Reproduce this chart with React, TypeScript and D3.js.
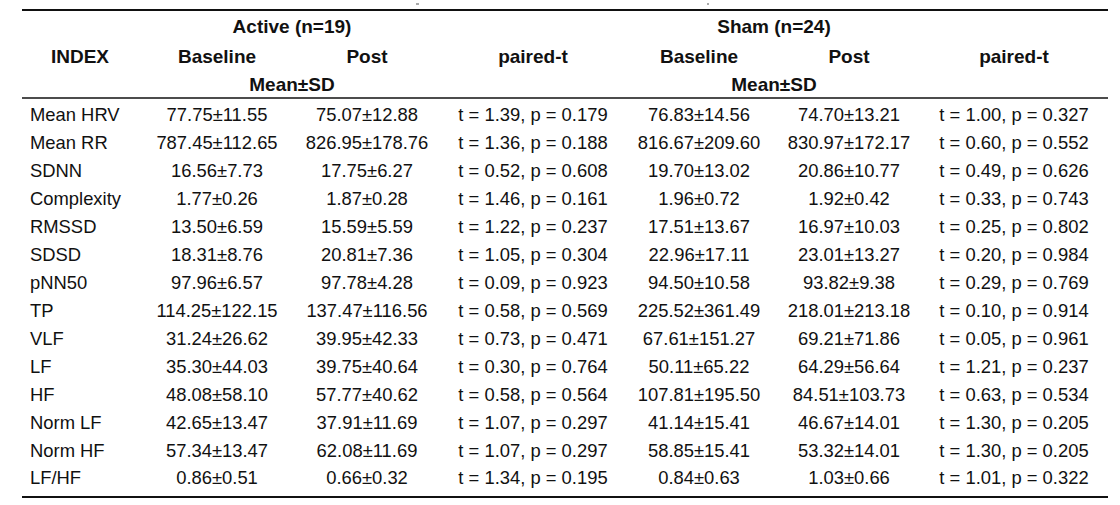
import React from "react";
import * as d3 from "d3";

const indexLabels = ["Mean HRV","Mean RR","SDNN","Complexity","RMSSD","SDSD","pNN50","TP","VLF","LF","HF","Norm LF","Norm HF","LF/HF"];
const activeBaseline = ["77.75±11.55","787.45±112.65","16.56±7.73","1.77±0.26","13.50±6.59","18.31±8.76","97.96±6.57","114.25±122.15","31.24±26.62","35.30±44.03","48.08±58.10","42.65±13.47","57.34±13.47","0.86±0.51"];
const activePost = ["75.07±12.88","826.95±178.76","17.75±6.27","1.87±0.28","15.59±5.59","20.81±7.36","97.78±4.28","137.47±116.56","39.95±42.33","39.75±40.64","57.77±40.62","37.91±11.69","62.08±11.69","0.66±0.32"];
const activeT = ["t = 1.39, p = 0.179","t = 1.36, p = 0.188","t = 0.52, p = 0.608","t = 1.46, p = 0.161","t = 1.22, p = 0.237","t = 1.05, p = 0.304","t = 0.09, p = 0.923","t = 0.58, p = 0.569","t = 0.73, p = 0.471","t = 0.30, p = 0.764","t = 0.58, p = 0.564","t = 1.07, p = 0.297","t = 1.07, p = 0.297","t = 1.34, p = 0.195"];
const shamBaseline = ["76.83±14.56","816.67±209.60","19.70±13.02","1.96±0.72","17.51±13.67","22.96±17.11","94.50±10.58","225.52±361.49","67.61±151.27","50.11±65.22","107.81±195.50","41.14±15.41","58.85±15.41","0.84±0.63"];
const shamPost = ["74.70±13.21","830.97±172.17","20.86±10.77","1.92±0.42","16.97±10.03","23.01±13.27","93.82±9.38","218.01±213.18","69.21±71.86","64.29±56.64","84.51±103.73","46.67±14.01","53.32±14.01","1.03±0.66"];
const shamT = ["t = 1.00, p = 0.327","t = 0.60, p = 0.552","t = 0.49, p = 0.626","t = 0.33, p = 0.743","t = 0.25, p = 0.802","t = 0.20, p = 0.984","t = 0.29, p = 0.769","t = 0.10, p = 0.914","t = 0.05, p = 0.961","t = 1.21, p = 0.237","t = 0.63, p = 0.534","t = 1.30, p = 0.205","t = 1.30, p = 0.205","t = 1.01, p = 0.322"];

const groupHeaders = ["Active (n=19)", "Sham (n=24)"];
const colHeaders = ["INDEX", "Baseline", "Post", "paired-t", "Baseline", "Post", "paired-t"];

export default function App() {
  const W = 1120, H = 505;
  const font = "'Liberation Sans', Arial, sans-serif";
  const colX = [80, 217, 367, 533, 699, 849, 1014];
  const y = d3.scaleLinear().domain([0, indexLabels.length - 1]).range([115, 478]);
  const left = 22, right = 1108;
  const dataCols = [activeBaseline, activePost, activeT, shamBaseline, shamPost, shamT];
  const fs = 18.4;
  const hfs = 19;
  return (
    <svg width={W} height={H} style={{ position: "absolute", left: 0, top: 0, background: "#fff" }}>
      <rect width={W} height={H} fill="#fff" />
      <line x1={416} x2={419} y1={4} y2={4} stroke="#555" strokeWidth={1} />
      <line x1={707} x2={709} y1={4} y2={4} stroke="#555" strokeWidth={1} />
      <line x1={left} x2={right} y1={10} y2={10} stroke="#111" strokeWidth={2} />
      <line x1={left} x2={right} y1={98} y2={98} stroke="#111" strokeWidth={1.5} />
      <line x1={left} x2={right} y1={497} y2={497} stroke="#111" strokeWidth={2} />
      <g fontFamily={font} fontWeight="bold" fontSize={hfs} fill="#111" textAnchor="middle">
        <text x={(colX[1] + colX[2]) / 2} y={26} dy="0.35em">{groupHeaders[0]}</text>
        <text x={(colX[4] + colX[5]) / 2} y={26} dy="0.35em">{groupHeaders[1]}</text>
        {colHeaders.map((h, i) => (
          <text key={i} x={colX[i]} y={56} dy="0.35em">{h}</text>
        ))}
        <text x={(colX[1] + colX[2]) / 2} y={84} dy="0.35em">Mean±SD</text>
        <text x={(colX[4] + colX[5]) / 2} y={84} dy="0.35em">Mean±SD</text>
      </g>
      <g fontFamily={font} fontSize={fs} fill="#111">
        {indexLabels.map((l, i) => (
          <text key={"l" + i} x={30} y={y(i)} dy="0.35em">{l}</text>
        ))}
        {dataCols.map((col, c) =>
          col.map((v, i) => (
            <text key={c + "-" + i} x={colX[c + 1]} y={y(i)} dy="0.35em" textAnchor="middle">{v}</text>
          ))
        )}
      </g>
    </svg>
  );
}
